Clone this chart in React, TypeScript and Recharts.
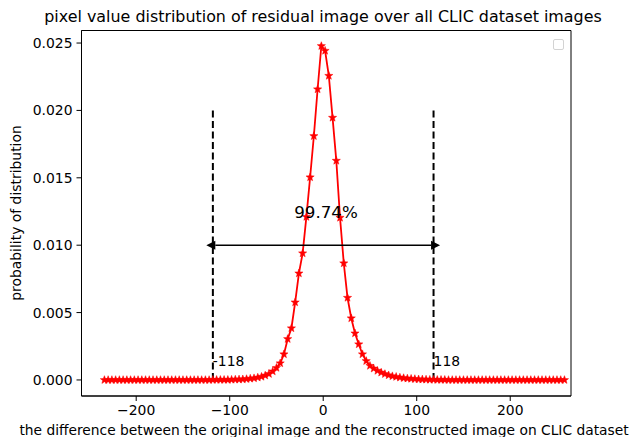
import React from "react";
import {
  ComposedChart,
  Line,
  XAxis,
  YAxis,
  ReferenceLine,
  ReferenceArea,
  ReferenceDot,
} from "recharts";

// pixel difference (x) and probability (y)
const DIFF = [
  -234, -230, -226, -222, -218, -214, -210, -206, -202, -198, -194, -190, -186, -182, -178,
  -174, -170, -166, -162, -158, -154, -150, -146, -142, -138, -134, -130, -126, -122, -118,
  -114, -110, -106, -102, -98, -94, -90, -86, -82, -78, -74, -70, -66, -62, -58, -54, -50,
  -46, -42, -38, -34, -30, -26, -22, -18, -14, -10, -6, -2, 2, 6, 10, 14, 18, 22, 26, 30, 34,
  38, 42, 46, 50, 54, 58, 62, 66, 70, 74, 78, 82, 86, 90, 94, 98, 102, 106, 110, 114, 118,
  122, 126, 130, 134, 138, 142, 146, 150, 154, 158, 162, 166, 170, 174, 178, 182, 186, 190,
  194, 198, 202, 206, 210, 214, 218, 222, 226, 230, 234, 238, 242, 246, 250, 254, 258,
];

const PROB = [
  // -234 .. -122
  0, 0, 0, 0, 0, 0, 0, 0, 0, 0, 0, 0, 0, 0, 0, 0, 0, 0, 0, 0, 0, 0, 0, 0, 0, 0, 0, 0, 0,
  // -118 .. -2
  0.00001, 0.00001, 0.00001, 0.00001, 0.00001, 0.00002, 0.00003, 0.00004, 0.00005, 0.00007,
  0.0001, 0.00013, 0.00018, 0.00024, 0.00033, 0.00045, 0.00064, 0.0009, 0.00124, 0.00191,
  0.00304, 0.00384, 0.00576, 0.00791, 0.0094, 0.0121, 0.01504, 0.0181, 0.02157, 0.02478,
  // 2 .. 130
  0.02443, 0.02257, 0.01946, 0.01627, 0.01204, 0.00866, 0.0061, 0.00458, 0.00346, 0.00265,
  0.00191, 0.00141, 0.00105, 0.00085, 0.00068, 0.00055, 0.00044, 0.00035, 0.00028, 0.00023,
  0.00018, 0.00014, 0.00011, 0.00009, 0.00007, 0.00005, 0.00004, 0.00003, 0.00002, 0.00002,
  0.00001, 0.00001, 0.00001,
  // 134 .. 258
  0, 0, 0, 0, 0, 0, 0, 0, 0, 0, 0, 0, 0, 0, 0, 0, 0, 0, 0, 0, 0, 0, 0, 0, 0, 0, 0, 0, 0, 0,
  0, 0,
];

const X_TICKS = [-200, -100, 0, 100, 200];
const Y_TICKS = [0, 0.005, 0.01, 0.015, 0.02, 0.025];
const X_DOMAIN = [-258.5, 265];
const Y_DOMAIN = [-0.00119, 0.02593];

const BOUND = 118;
const BOUND_TOP = 0.02;
const ARROW_END = 125;
const ARROW_Y = 0.01;
const SPAN_TEXT = "99.74%";
const SPAN_TEXT_POS = { x: -31, y: 0.012 };
const BOUND_TEXT_Y = 0.001;

const data = DIFF.map((d, i) => ({ d, p: PROB[i] }));

const FONT = "'DejaVu Sans', sans-serif";

function Star(props: any) {
  const { cx, cy, index } = props;
  if (cx == null || cy == null) return null;
  const pts: string[] = [];
  for (let k = 0; k < 10; k++) {
    const r = k % 2 === 0 ? 4.3 : 1.8;
    const a = -Math.PI / 2 + (k * Math.PI) / 5;
    pts.push(`${(cx + r * Math.cos(a)).toFixed(2)},${(cy + r * Math.sin(a)).toFixed(2)}`);
  }
  return <polygon key={`s-${index}`} points={pts.join(" ")} fill="#ff0000" stroke="#ff0000" strokeWidth={0.5} />;
}

function DoubleArrow(props: any) {
  const { x1, y1, x2, y2 } = props;
  const hl = 9;
  const hw = 4.5;
  return (
    <g>
      <line x1={x1 + hl} y1={y1} x2={x2 - hl} y2={y2} stroke="#000" strokeWidth={1.6} />
      <polygon points={`${x1},${y1} ${x1 + hl},${y1 - hw} ${x1 + hl},${y1 + hw}`} fill="#000" />
      <polygon points={`${x2},${y2} ${x2 - hl},${y2 - hw} ${x2 - hl},${y2 + hw}`} fill="#000" />
    </g>
  );
}

const textAt = (value: string, size: number) => (p: any) =>
  (
    <text x={p.cx} y={p.cy} fontSize={size} fontFamily={FONT} fill="#000">
      {value}
    </text>
  );

const fmtX = (v: number) => (v < 0 ? `\u2212${-v}` : `${v}`);

export default function App() {
  return (
    <div style={{ position: "absolute", left: 0, top: 0, width: 631, height: 437, background: "#fff" }}>
      <ComposedChart
        width={631}
        height={437}
        data={data}
        margin={{ top: 30.5, right: 60, bottom: 11, left: 21.5 }}
      >
        <XAxis
          type="number"
          dataKey="d"
          domain={X_DOMAIN}
          ticks={X_TICKS}
          allowDataOverflow
          height={30}
          tickFormatter={fmtX}
          tick={{ fill: "#000", fontSize: 13.9, fontFamily: FONT }}
          tickSize={5}
          tickMargin={4}
          axisLine={{ stroke: "#000" }}
          tickLine={{ stroke: "#000" }}
        />
        <YAxis
          type="number"
          domain={Y_DOMAIN}
          ticks={Y_TICKS}
          allowDataOverflow
          width={60}
          tickFormatter={(v: number) => v.toFixed(3)}
          tick={{ fill: "#000", fontSize: 13.9, fontFamily: FONT }}
          tickSize={5}
          tickMargin={4}
          axisLine={{ stroke: "#000" }}
          tickLine={{ stroke: "#000" }}
        />
        <ReferenceArea
          x1={X_DOMAIN[0]}
          x2={X_DOMAIN[1]}
          y1={Y_DOMAIN[0]}
          y2={Y_DOMAIN[1]}
          fill="none"
          fillOpacity={0}
          stroke="#000"
          strokeWidth={1}
        />
        <ReferenceLine
          segment={[{ x: -BOUND, y: 0 }, { x: -BOUND, y: BOUND_TOP }]}
          stroke="#000"
          strokeWidth={2}
          strokeDasharray="7 3.5"
        />
        <ReferenceLine
          segment={[{ x: BOUND, y: 0 }, { x: BOUND, y: BOUND_TOP }]}
          stroke="#000"
          strokeWidth={2}
          strokeDasharray="7 3.5"
        />
        <Line
          type="linear"
          dataKey="p"
          stroke="#ff0000"
          strokeWidth={1.8}
          dot={<Star />}
          activeDot={false}
          isAnimationActive={false}
        />
        <ReferenceLine
          segment={[{ x: -ARROW_END, y: ARROW_Y }, { x: ARROW_END, y: ARROW_Y }]}
          stroke="#000"
          strokeWidth={1.6}
          shape={DoubleArrow}
        />
        <ReferenceDot x={SPAN_TEXT_POS.x} y={SPAN_TEXT_POS.y} r={0} shape={textAt(SPAN_TEXT, 16.7)} />
        <ReferenceDot x={-BOUND} y={BOUND_TEXT_Y} r={0} shape={textAt(`-${BOUND}`, 13.9)} />
        <ReferenceDot x={BOUND} y={BOUND_TEXT_Y} r={0} shape={textAt(`${BOUND}`, 13.9)} />
      </ComposedChart>
      <svg
        width={631}
        height={437}
        style={{ position: "absolute", left: 0, top: 0, pointerEvents: "none" }}
      >
        <text x={323} y={22} textAnchor="middle" fontSize={15.9} fontFamily={FONT} fill="#000">
          pixel value distribution of residual image over all CLIC dataset images
        </text>
        <text
          x={0}
          y={0}
          transform="translate(21,213) rotate(-90)"
          textAnchor="middle"
          fontSize={13.9}
          fontFamily={FONT}
          fill="#000"
        >
          probability of distribution
        </text>
        <text x={324} y={435} textAnchor="middle" fontSize={13.8} fontFamily={FONT} fill="#000">
          the difference between the original image and the reconstructed image on CLIC dataset
        </text>
      </svg>
      <div
        style={{
          position: "absolute",
          left: 553,
          top: 39,
          width: 11,
          height: 11,
          border: "1px solid #d3d3d3",
          borderRadius: 2,
          boxSizing: "border-box",
        }}
      />
    </div>
  );
}
